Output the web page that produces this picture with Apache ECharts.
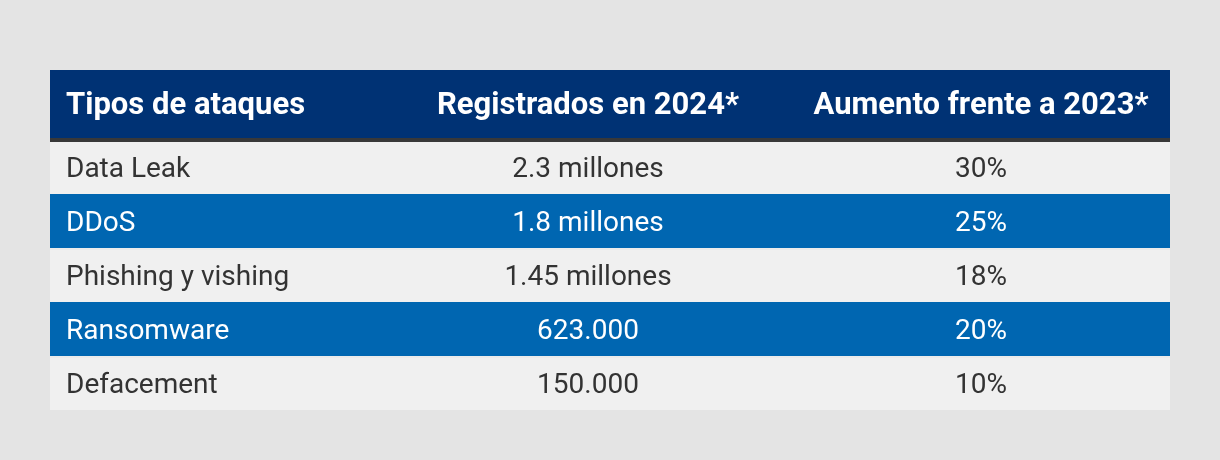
<!DOCTYPE html>
<html>
<head>
<meta charset="utf-8">
<script src="https://cdn.jsdelivr.net/npm/echarts@6/dist/echarts.min.js"></script>
<style>
html,body{margin:0;padding:0;background:#e4e4e4;}
#chart{width:1220px;height:460px;}
</style>
</head>
<body>
<div id="chart"></div>
<script>
const headers = ['Tipos de ataques', 'Registrados en 2024*', 'Aumento frente a 2023*'];
const attackTypes = ['Data Leak', 'DDoS', 'Phishing y vishing', 'Ransomware', 'Defacement'];
const registered2024 = ['2.3 millones', '1.8 millones', '1.45 millones', '623.000', '150.000'];
const increaseVs2023 = ['30%', '25%', '18%', '20%', '10%'];

const FONT = 'Roboto, "Noto Sans", sans-serif';
const NAVY = '#003274';
const BLUE = '#0066b1';
const LIGHT = '#f0f0f0';
const TEXT_DARK = '#333333';
// column anchors relative to table left edge (layout)
const colAnchor = [16, 538, 931];
const colAlign = ['left', 'center', 'center'];

const chart = echarts.init(document.getElementById('chart'), null, {renderer: 'canvas'});

const tableLeft = 50, tableWidth = 1120, headerTop = 70, headerH = 68;

const headerGraphics = [
  {type: 'rect', left: tableLeft, top: headerTop, shape: {width: tableWidth, height: headerH}, style: {fill: NAVY}, z: 10},
  {type: 'rect', left: tableLeft, top: headerTop + headerH, shape: {width: tableWidth, height: 4}, style: {fill: '#383838'}, z: 12}
];
headers.forEach((h, i) => {
  headerGraphics.push({
    type: 'text',
    x: tableLeft + colAnchor[i],
    y: headerTop + headerH / 2 + 2,
    z: 11,
    style: {
      text: h, fill: '#ffffff', font: 'bold 31px ' + FONT,
      align: colAlign[i], verticalAlign: 'middle'
    }
  });
});

chart.setOption({
  backgroundColor: '#e4e4e4',
  animation: false,
  grid: {left: 50, right: 50, top: 140, bottom: 50},
  xAxis: {type: 'value', min: 0, max: 1, show: false},
  yAxis: {type: 'category', data: attackTypes, inverse: true, show: false},
  graphic: headerGraphics,
  series: [{
    type: 'custom',
    data: attackTypes.map((_, i) => [0, i]),
    renderItem: function (params, api) {
      const idx = api.value(1);
      const cs = params.coordSys;
      const cy = api.coord([0, idx])[1];
      const h = api.size([0, 1])[1];
      const alt = idx % 2 === 1;
      const fg = alt ? '#ffffff' : TEXT_DARK;
      const cells = [attackTypes[idx], registered2024[idx], increaseVs2023[idx]];
      const children = [{
        type: 'rect',
        shape: {x: cs.x, y: cy - h / 2, width: cs.width, height: h},
        style: {fill: alt ? BLUE : LIGHT}
      }];
      if (idx > 0 && !alt) {
        children.push({
          type: 'rect',
          shape: {x: cs.x, y: cy - h / 2, width: cs.width, height: 2},
          style: {fill: '#ebebeb'}
        });
      }
      cells.forEach((t, c) => {
        children.push({
          type: 'text',
          x: cs.x + colAnchor[c],
          y: cy + 3,
          style: {
            text: t, fill: fg, font: '28px ' + FONT,
            align: colAlign[c], verticalAlign: 'middle'
          }
        });
      });
      return {type: 'group', children: children};
    }
  }]
});
</script>
</body>
</html>
